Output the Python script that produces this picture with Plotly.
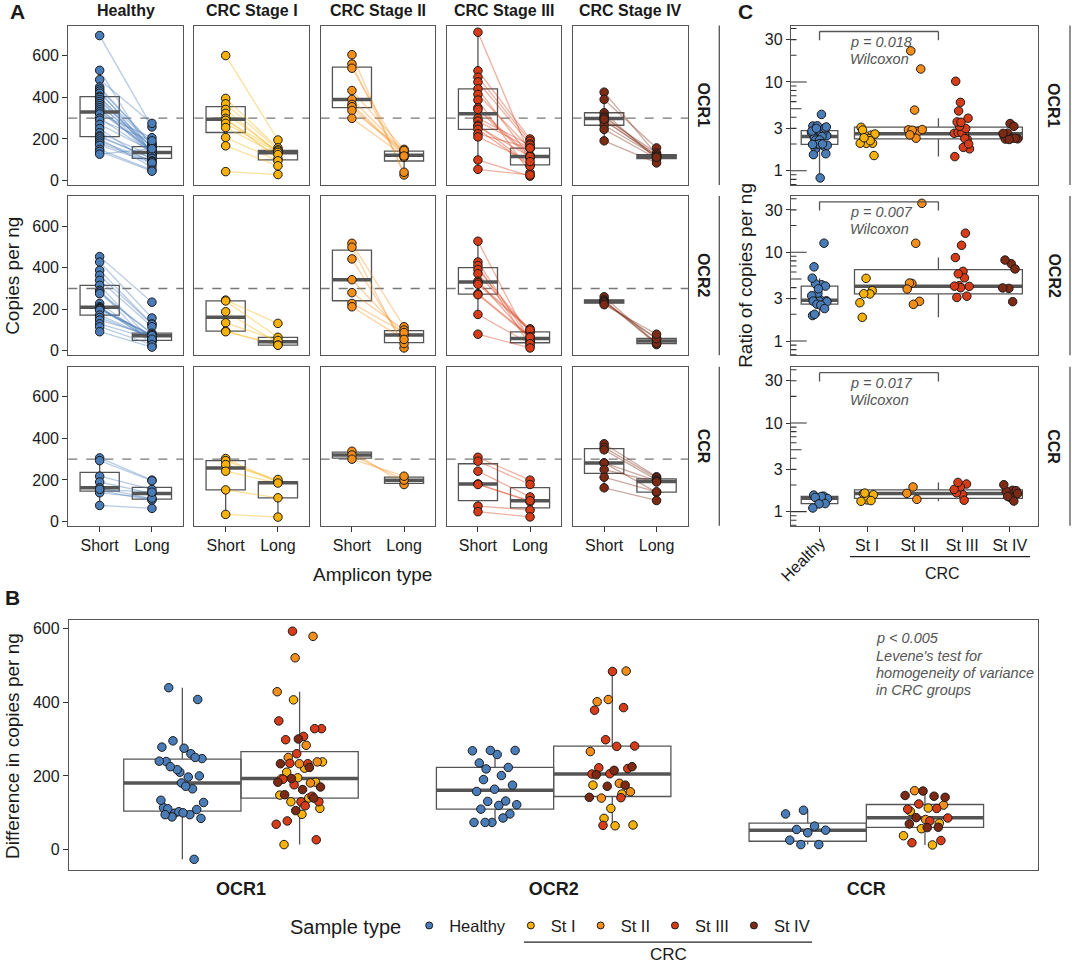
import numpy as np
import plotly.graph_objects as go

W, H = 1072, 967
FONT = "Liberation Sans, Arial, sans-serif"

# ---------------- categories / labels ----------------
REGIONS = ["OCR1", "OCR2", "CCR"]
GROUPS = ["Healthy", "St I", "St II", "St III", "St IV"]
GROUP_TITLES = ["Healthy", "CRC Stage I", "CRC Stage II", "CRC Stage III", "CRC Stage IV"]
AMPLICONS = ["Short", "Long"]
THRESHOLD = 300
A_TICKS = [0, 200, 400, 600]
B_TICKS = [0, 200, 400, 600]
C_TICKS = [1, 3, 10, 30]
WILCOXON_P = ["p = 0.018", "p = 0.007", "p = 0.017"]
LEVENE_LINES = ["p < 0.005", "Levene's test for", "homogeneity of variance", "in CRC groups"]

# ---------------- copies per ng (paired short / long amplicons) ----------------
OCR1_HEALTHY_SHORT = [697, 530, 485, 450, 440, 430, 420, 405, 400, 390, 380, 370, 360, 350, 340, 330,
                      320, 300, 290, 270, 250, 230, 215, 210, 200, 190, 180, 170, 150, 140, 127]
OCR1_HEALTHY_LONG = [258, 123, 275, 172, 180, 135, 173, 130, 161, 140, 163, 130, 163, 125, 140, 149,
                     206, 135, 191, 142, 78, 119, 106, 107, 66, 95, 91, 85, 50, 45, 153]
OCR1_ST1_SHORT = [601, 395, 369, 342, 323, 299, 290, 275, 255, 207, 167, 43]
OCR1_ST1_LONG = [195, 157, 148, 132, 140, 104, 142, 135, 125, 95, 71, 29]
OCR1_ST2_SHORT = [605, 560, 540, 433, 390, 366, 355, 337, 299]
OCR1_ST2_LONG = [27, 40, 112, 150, 140, 128, 122, 145, 118]
OCR1_ST3_SHORT = [713, 528, 497, 474, 441, 414, 387, 350, 342, 300, 286, 266, 260, 246, 225, 210, 99, 54]
OCR1_ST3_LONG = [121, 200, 190, 176, 113, 154, 38, 117, 108, 170, 156, 75, 115, 70, 156, 91, 21, 27]
OCR1_ST4_SHORT = [425, 390, 326, 310, 302, 286, 266, 246, 191, 295]
OCR1_ST4_LONG = [125, 157, 103, 117, 132, 123, 117, 106, 85, 112]

OCR2_HEALTHY_SHORT = [453, 427, 387, 363, 339, 315, 291, 283, 275, 228, 212, 208, 205, 203, 200, 195,
                      172, 160, 148, 130, 116, 92]
OCR2_HEALTHY_LONG = [234, 158, 129, 128, 116, 46, 23, 82, 85, 53, 48, 50, 73, 72, 78, 75,
                     62, 63, 74, 56, 30, 18]
OCR2_ST1_SHORT = [244, 240, 188, 135, 95, 92]
OCR2_ST1_LONG = [132, 65, 37, 50, 28, 27]
OCR2_ST2_SHORT = [517, 498, 442, 342, 280, 228, 212]
OCR2_ST2_LONG = [116, 14, 35, 76, 100, 88, 55]
OCR2_ST3_SHORT = [527, 427, 410, 391, 371, 335, 328, 320, 275, 270, 175, 80]
OCR2_ST3_LONG = [44, 49, 25, 93, 90, 55, 106, 100, 69, 65, 34, 14]
OCR2_ST4_SHORT = [260, 245, 240, 235, 230, 222]
OCR2_ST4_LONG = [35, 30, 37, 60, 58, 80]

CCR_HEALTHY_SHORT = [306, 293, 218, 190, 162, 149, 138, 77, 155]
CCR_HEALTHY_LONG = [199, 196, 154, 135, 109, 103, 112, 63, 141]
CCR_ST1_SHORT = [303, 293, 274, 242, 152, 34]
CCR_ST1_LONG = [190, 189, 202, 185, 114, 21]
CCR_ST2_SHORT = [338, 320, 300]
CCR_ST2_LONG = [178, 199, 218]
CCR_ST3_SHORT = [309, 290, 242, 181, 178, 74, 47]
CCR_ST3_LONG = [199, 178, 118, 95, 100, 55, 22]
CCR_ST4_SHORT = [374, 357, 345, 282, 282, 250, 213, 162]
CCR_ST4_LONG = [215, 210, 200, 195, 140, 190, 143, 101]

DATA = {
    ("OCR1", "Healthy"): (OCR1_HEALTHY_SHORT, OCR1_HEALTHY_LONG),
    ("OCR1", "St I"): (OCR1_ST1_SHORT, OCR1_ST1_LONG),
    ("OCR1", "St II"): (OCR1_ST2_SHORT, OCR1_ST2_LONG),
    ("OCR1", "St III"): (OCR1_ST3_SHORT, OCR1_ST3_LONG),
    ("OCR1", "St IV"): (OCR1_ST4_SHORT, OCR1_ST4_LONG),
    ("OCR2", "Healthy"): (OCR2_HEALTHY_SHORT, OCR2_HEALTHY_LONG),
    ("OCR2", "St I"): (OCR2_ST1_SHORT, OCR2_ST1_LONG),
    ("OCR2", "St II"): (OCR2_ST2_SHORT, OCR2_ST2_LONG),
    ("OCR2", "St III"): (OCR2_ST3_SHORT, OCR2_ST3_LONG),
    ("OCR2", "St IV"): (OCR2_ST4_SHORT, OCR2_ST4_LONG),
    ("CCR", "Healthy"): (CCR_HEALTHY_SHORT, CCR_HEALTHY_LONG),
    ("CCR", "St I"): (CCR_ST1_SHORT, CCR_ST1_LONG),
    ("CCR", "St II"): (CCR_ST2_SHORT, CCR_ST2_LONG),
    ("CCR", "St III"): (CCR_ST3_SHORT, CCR_ST3_LONG),
    ("CCR", "St IV"): (CCR_ST4_SHORT, CCR_ST4_LONG),
}

COLORS = {"Healthy": "#4A7DB8", "St I": "#F6B20A", "St II": "#F48E1B",
          "St III": "#D63C17", "St IV": "#7D2A15"}
BOX_COLOR = "#555555"
FRAME = "#555555"
TEXT = "#1a1a1a"

# ---------------- layout geometry (pixels) ----------------
A_COLS = [(68.3, 183.3), (194.3, 309.3), (320.7, 435.3), (446.7, 561.3), (572.7, 688.0)]
ROWS = [(25.7, 185.7), (196.7, 356.7), (368.3, 528.0)]
A_STRIP_RIGHT = 719.3
C_X = (791.0, 1038.3)
C_STRIP_RIGHT = 1070.0
B_X = (69.0, 1038.3)
B_Y = (622.7, 873.3)


def px(x):
    return x / W


def py(y):
    return 1 - y / H


def rgba(hexc, a):
    h = hexc.lstrip("#")
    return "rgba(%d,%d,%d,%.2f)" % (int(h[0:2], 16), int(h[2:4], 16), int(h[4:6], 16), a)


def jitter(n, amp, seed):
    return [((k * 0.6180339887 + seed) % 1.0 - 0.5) * 2 * amp for k in range(n)]


fig = go.Figure()
axes = {}
shapes = []
annotations = []


def note(text, x, y, size=16, color=TEXT, angle=0, xanchor="center", yanchor="middle", xref="paper",
         yref="paper"):
    if xref == "paper":
        x = px(x)
    if yref == "paper":
        y = py(y)
    annotations.append(dict(text=text, x=x, y=y, xref=xref, yref=yref, xanchor=xanchor, yanchor=yanchor,
                            showarrow=False, textangle=angle, font=dict(size=size, color=color)))


base_axis = dict(showline=True, mirror=True, linecolor=FRAME, linewidth=1.3, showgrid=False,
                 zeroline=False, tickfont=dict(size=16, color=TEXT, family=FONT),
                 tickcolor="#333", ticklen=5, tickwidth=1.1, fixedrange=True)


def add_axes(n, xdom, ydom, xcfg, ycfg):
    key = "" if n == 1 else str(n)
    xa = dict(base_axis); xa.update(domain=xdom, anchor="y" + key); xa.update(xcfg)
    ya = dict(base_axis); ya.update(domain=ydom, anchor="x" + key); ya.update(ycfg)
    axes["xaxis" + key] = xa
    axes["yaxis" + key] = ya
    return "x" + key, "y" + key


def add_box(xa, ya, pos, vals, width, lw=1.3, mw=3.5):
    fig.add_trace(go.Box(x=[pos] * len(vals), y=vals, width=width, boxpoints="outliers",
                         marker=dict(opacity=0, size=1),
                         line=dict(color=BOX_COLOR, width=lw), fillcolor="rgba(255,255,255,0)",
                         whiskerwidth=0, xaxis=xa, yaxis=ya, showlegend=False, hoverinfo="skip"))
    med = float(np.median(vals))
    fig.add_trace(go.Scatter(x=[pos - width / 2, pos + width / 2], y=[med, med], mode="lines",
                             line=dict(color=BOX_COLOR, width=mw), xaxis=xa, yaxis=ya,
                             showlegend=False, hoverinfo="skip"))


def add_points(xa, ya, xs, ys, color, size=8.5):
    fig.add_trace(go.Scatter(x=xs, y=ys, mode="markers",
                             marker=dict(color=color, size=size, line=dict(color="#1a1a1a", width=1)),
                             xaxis=xa, yaxis=ya, showlegend=False, hoverinfo="skip"))


# ---------------- Panel A ----------------
for r, region in enumerate(REGIONS):
    for c, group in enumerate(GROUPS):
        n = r * 5 + c + 1
        xa, ya = add_axes(
            n, [px(A_COLS[c][0]), px(A_COLS[c][1])], [py(ROWS[r][1]), py(ROWS[r][0])],
            dict(range=[0.4, 2.6], tickvals=[1, 2], ticktext=AMPLICONS,
                 showticklabels=(r == 2), ticks="outside" if r == 2 else ""),
            dict(range=[-21, 745], tickvals=A_TICKS, showticklabels=(c == 0),
                 ticks="outside" if c == 0 else ""))
        short, long_ = DATA[(region, group)]
        col = COLORS[group]
        lx, ly = [], []
        for s, l in zip(short, long_):
            lx += [1, 2, None]
            ly += [s, l, None]
        fig.add_trace(go.Scatter(x=lx, y=ly, mode="lines", line=dict(color=rgba(col, 0.4), width=1.3),
                                 xaxis=xa, yaxis=ya, showlegend=False, hoverinfo="skip"))
        add_box(xa, ya, 1, short, 0.75)
        add_box(xa, ya, 2, long_, 0.75)
        add_points(xa, ya, [1] * len(short) + [2] * len(long_), list(short) + list(long_), col)
        shapes.append(dict(type="line", xref=xa + " domain", yref=ya, x0=0, x1=1,
                           y0=THRESHOLD, y1=THRESHOLD, line=dict(color="#777", width=1.4, dash="dash"),
                           layer="below"))
    shapes.append(dict(type="line", xref="paper", yref="paper", x0=px(A_STRIP_RIGHT), x1=px(A_STRIP_RIGHT),
                       y0=py(ROWS[r][1]), y1=py(ROWS[r][0]), line=dict(color=FRAME, width=1.3)))
    note("<b>%s</b>" % region, (688 + A_STRIP_RIGHT) / 2, (ROWS[r][0] + ROWS[r][1]) / 2, angle=90)

for c, title in enumerate(GROUP_TITLES):
    note("<b>%s</b>" % title, (A_COLS[c][0] + A_COLS[c][1]) / 2, 11)

note("Copies per ng", 13, 277, size=19, angle=-90)
note("Amplicon type", 372, 577, size=19)

# ---------------- Panel C ----------------
LOG_MINOR = [0.7, 0.8, 0.9, 1, 2, 3, 4, 5, 6, 7, 8, 9, 10, 20, 30, 40]
cw = C_X[1] - C_X[0]
for r, region in enumerate(REGIONS):
    n = 16 + r
    xa, ya = add_axes(
        n, [px(C_X[0]), px(C_X[1])], [py(ROWS[r][1]), py(ROWS[r][0])],
        dict(range=[0.4, 5.6], tickvals=[1, 2, 3, 4, 5], ticktext=[""] + GROUPS[1:],
             showticklabels=(r == 2), ticks="outside" if r == 2 else ""),
        dict(type="log", range=[-0.16, 1.635], tickvals=C_TICKS, ticktext=[str(t) for t in C_TICKS],
             ticks="outside", ticklen=4))
    healthy_r = None
    crc_r = []
    for g, group in enumerate(GROUPS):
        short, long_ = DATA[(region, group)]
        ratios = [s / l for s, l in zip(short, long_)]
        if g == 0:
            healthy_r = ratios
        else:
            crc_r += ratios
    add_box(xa, ya, 1, healthy_r, 0.77)
    add_box(xa, ya, 3.5, crc_r, 3.53)
    for g, group in enumerate(GROUPS):
        short, long_ = DATA[(region, group)]
        ratios = [s / l for s, l in zip(short, long_)]
        xs = [g + 1 + j for j in jitter(len(ratios), 0.17, 0.13 * g + 0.07 * r)]
        add_points(xa, ya, xs, ratios, COLORS[group], size=8.5)
    for v in LOG_MINOR:
        ln = 15.7 if v in (1, 10) else (10.5 if v == 5 else 5.5)
        shapes.append(dict(type="line", xref=xa + " domain", yref=ya, x0=0, x1=ln / cw, y0=v, y1=v,
                           line=dict(color="#333", width=1.1)))
    for (x0, x1, y0, y1) in [(1, 3.5, 37, 37), (1, 1, 37, 29.5), (3.5, 3.5, 37, 29.5)]:
        shapes.append(dict(type="line", xref=xa, yref=ya, x0=x0, x1=x1, y0=y0, y1=y1,
                           line=dict(color="#555", width=1.3)))
    note("<i>%s</i>" % WILCOXON_P[r], 1.6, 1.449, size=14.5, color="#555", xanchor="left", xref=xa, yref=ya)
    note("<i>Wilcoxon</i>", 1.6, 1.258, size=14.5, color="#555", xanchor="left", xref=xa, yref=ya)
    shapes.append(dict(type="line", xref="paper", yref="paper", x0=px(C_STRIP_RIGHT), x1=px(C_STRIP_RIGHT),
                       y0=py(ROWS[r][1]), y1=py(ROWS[r][0]), line=dict(color=FRAME, width=1.3)))
    note("<b>%s</b>" % region, (C_X[1] + C_STRIP_RIGHT) / 2, (ROWS[r][0] + ROWS[r][1]) / 2, angle=90)

note("Healthy", 803, 562, angle=-45)
shapes.append(dict(type="line", xref="paper", yref="paper", x0=px(850), x1=px(1030), y0=py(559), y1=py(559),
                   line=dict(color="#222", width=1.3)))
note("CRC", 942, 576)
note("Ratio of copies per ng", 746, 277, size=19, angle=-90)

# ---------------- Panel B ----------------
xa, ya = add_axes(
    19, [px(B_X[0]), px(B_X[1])], [py(B_Y[1]), py(B_Y[0])],
    dict(range=[0.45, 3.55], tickvals=[1, 2, 3], ticktext=["<b>%s</b>" % t for t in REGIONS],
         ticks="", ticklabelstandoff=3, tickfont=dict(size=18, color=TEXT, family=FONT)),
    dict(range=[-54, 622], tickvals=B_TICKS, ticks="outside"))
DODGE = 0.1875
for i, region in enumerate(REGIONS):
    pos = i + 1
    healthy_d = [s - l for s, l in zip(*DATA[(region, "Healthy")])]
    crc_d = []
    for group in GROUPS[1:]:
        crc_d += [s - l for s, l in zip(*DATA[(region, group)])]
    add_box(xa, ya, pos - DODGE, healthy_d, 0.375)
    add_box(xa, ya, pos + DODGE, crc_d, 0.375)
    add_points(xa, ya, [pos - DODGE + j for j in jitter(len(healthy_d), 0.075, 0.21 + i * 0.1)],
               healthy_d, COLORS["Healthy"])
    k0 = 0
    for group in GROUPS[1:]:
        d = [s - l for s, l in zip(*DATA[(region, group)])]
        js = jitter(k0 + len(d), 0.075, 0.37 + i * 0.1)[k0:]
        add_points(xa, ya, [pos + DODGE + j for j in js], d, COLORS[group])
        k0 += len(d)

for k, line in enumerate(LEVENE_LINES):
    note("<i>%s</i>" % line, 874, 641 + 17.3 * k, size=14.5, color="#555", xanchor="left")
note("Difference in copies per ng", 13, 749, size=19, angle=-90)

for letter, (lx_, ly_) in {"A": (17, 12), "B": (12, 600), "C": (745, 12)}.items():
    note("<b>%s</b>" % letter, lx_, ly_, size=21)

# ---------------- legend ----------------
for group in GROUPS:
    fig.add_trace(go.Scatter(x=[None], y=[None], mode="markers", name=group,
                             marker=dict(color=COLORS[group], size=7, line=dict(color="#1a1a1a", width=1)),
                             xaxis="x19", yaxis="y19", showlegend=True))
shapes.append(dict(type="line", xref="paper", yref="paper", x0=px(524), x1=px(812), y0=py(946), y1=py(946),
                   line=dict(color="#222", width=1.3)))
note("CRC", 668, 958, size=17)

fig.update_layout(
    width=W, height=H, margin=dict(l=0, r=0, t=0, b=0),
    paper_bgcolor="white", plot_bgcolor="white",
    font=dict(family=FONT, color=TEXT),
    shapes=shapes, annotations=annotations, boxmode="overlay",
    legend=dict(orientation="h", x=px(288), y=py(912), xanchor="left", yanchor="top",
                title=dict(text="Sample type", side="left", font=dict(size=20, color=TEXT)),
                font=dict(size=16.5, color=TEXT), bgcolor="rgba(0,0,0,0)", itemsizing="trace"),
    **axes,
)
fig.write_html("out.html", config={"displayModeBar": False},
               post_script="document.body.style.margin='0px';")
